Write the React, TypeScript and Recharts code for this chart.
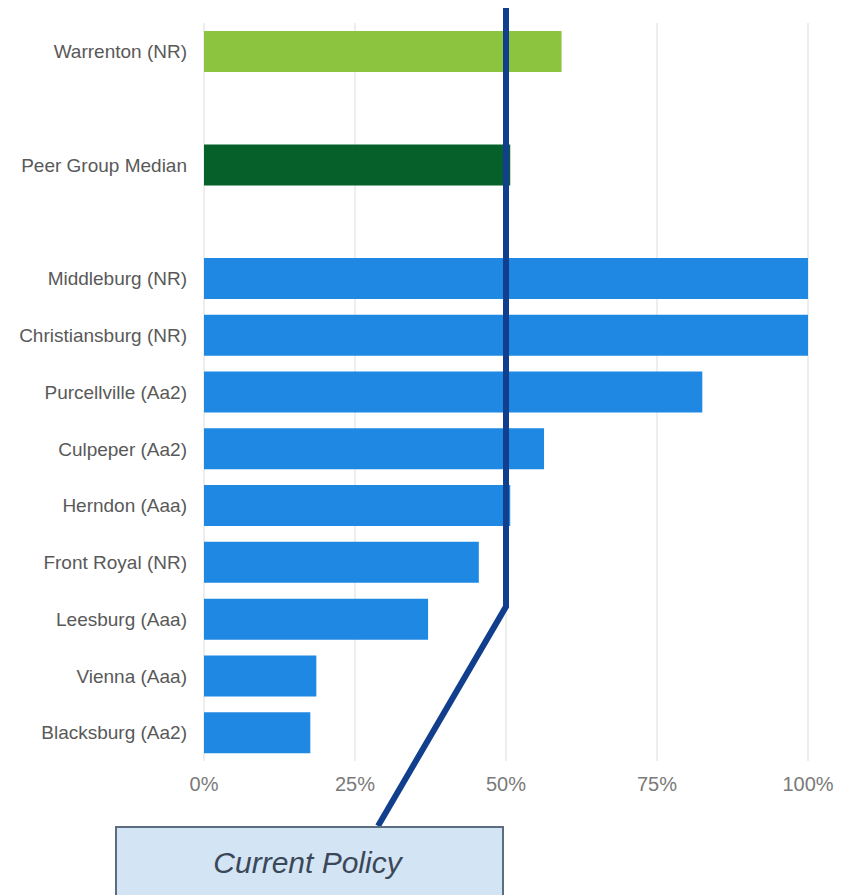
import React from 'react';
import { BarChart, Bar, Cell, XAxis, YAxis, CartesianGrid, ReferenceLine } from 'recharts';

// rows top to bottom; gap rows keep the empty spacing between the groups
const categories = [
  'Warrenton (NR)',
  'gap-1',
  'Peer Group Median',
  'gap-2',
  'Middleburg (NR)',
  'Christiansburg (NR)',
  'Purcellville (Aa2)',
  'Culpeper (Aa2)',
  'Herndon (Aaa)',
  'Front Royal (NR)',
  'Leesburg (Aaa)',
  'Vienna (Aaa)',
  'Blacksburg (Aa2)',
];
const shares = [59.2, null, 50.7, null, 100, 100, 82.5, 56.3, 50.7, 45.5, 37.1, 18.6, 17.6];
const groups = ['self', null, 'median', null, 'peer', 'peer', 'peer', 'peer', 'peer', 'peer', 'peer', 'peer', 'peer'];
const xTicks = [0, 25, 50, 75, 100];
const policyLevel = 50;
const policyLabel = 'Current Policy';
const bendRow = 'Leesburg (Aaa)';

const GROUP_COLORS: Record<string, string> = {
  self: '#8cc43f',
  median: '#05602a',
  peer: '#1f88e3',
};

const CHART_W = 839;
const CHART_H = 887;
const MARGIN = { top: 15, right: 39, bottom: 104, left: 0 };
const BOX = { left: 107, top: 818, width: 389, height: 90 };

const data = categories.map((name, i) => ({ name, share: shares[i], group: groups[i] }));

function PolicyConnector(props: any) {
  const { x1 } = props;
  const top = Math.min(props.y1, props.y2);
  const bottom = Math.max(props.y1, props.y2);
  const rowH = (bottom - top) / categories.length;
  const bendY = top + rowH * (categories.indexOf(bendRow) + 0.28);
  const endX = BOX.left + 263;
  const d = `M${x1},${top - 15} L${x1},${bendY} L${endX},${BOX.top}`;
  return <path d={d} fill="none" stroke="#113f8d" strokeWidth={6} strokeLinejoin="miter" />;
}

export default function App() {
  return (
    <div
      style={{
        position: 'relative',
        width: CHART_W,
        height: CHART_H,
        overflow: 'hidden',
        fontFamily: '"Liberation Sans", Arial, sans-serif',
      }}
    >
      <BarChart
        width={CHART_W}
        height={CHART_H}
        data={data}
        layout="vertical"
        margin={MARGIN}
        barCategoryGap="14%"
      >
        <CartesianGrid horizontal={false} stroke="#dcdcdc" />
        <XAxis
          type="number"
          domain={[0, 100]}
          ticks={xTicks}
          tickFormatter={(v) => `${v}%`}
          axisLine={false}
          tickLine={false}
          tickMargin={10}
          height={30}
          tick={{ fill: '#7a7a7a', fontSize: 20 }}
        />
        <YAxis
          type="category"
          dataKey="name"
          width={196}
          interval={0}
          axisLine={false}
          tickLine={false}
          tickMargin={11}
          tickFormatter={(v) => (String(v).startsWith('gap-') ? '' : v)}
          tick={{ fill: '#595959', fontSize: 19 }}
        />
        <Bar dataKey="share" isAnimationActive={false}>
          {data.map((d, i) => (
            <Cell key={`cell-${i}`} fill={d.group ? GROUP_COLORS[d.group] : 'transparent'} />
          ))}
        </Bar>
        <ReferenceLine x={policyLevel} ifOverflow="visible" shape={PolicyConnector} />
      </BarChart>
      <div
        style={{
          position: 'absolute',
          left: BOX.left,
          top: BOX.top,
          width: BOX.width,
          height: BOX.height,
          boxSizing: 'border-box',
          border: '2px solid #5d6d80',
          background: '#d3e4f5',
          color: '#3b4858',
          fontSize: 30,
          fontStyle: 'italic',
          textAlign: 'center',
          paddingTop: 18,
          paddingRight: 4,
        }}
      >
        {policyLabel}
      </div>
      <div
        style={{
          position: 'absolute',
          left: 834,
          top: 858,
          width: 20,
          height: 60,
          boxSizing: 'border-box',
          border: '2px solid #111',
          background: '#e6e6e6',
        }}
      />
    </div>
  );
}
